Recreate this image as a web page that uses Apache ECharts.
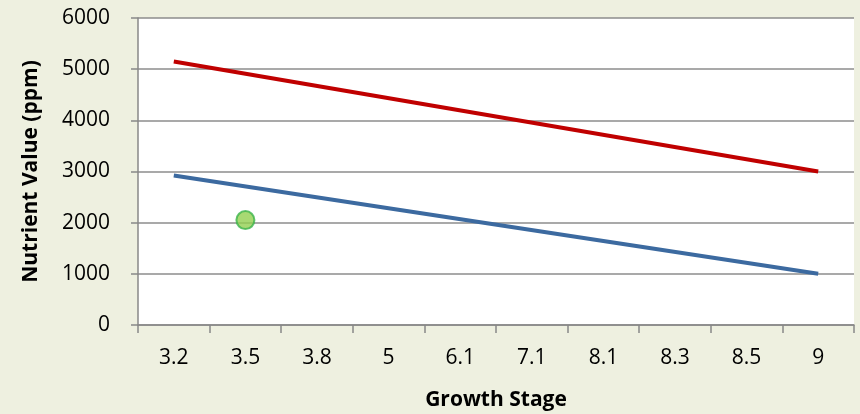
<!DOCTYPE html>
<html>
<head>
<meta charset="utf-8">
<script src="https://cdn.jsdelivr.net/npm/echarts@6/dist/echarts.min.js"></script>
<style>
  html, body { margin: 0; padding: 0; background: #eef0e0; }
  #chart { width: 860px; height: 414px; }
</style>
</head>
<body>
<div id="chart"></div>
<script>
// Growth stages along the category axis
const stages = ['3.2', '3.5', '3.8', '5', '6.1', '7.1', '8.1', '8.3', '8.5', '9'];
// Upper and lower nutrient limits (only endpoints known, joined straight)
const upperLimit = [5150, null, null, null, null, null, null, null, null, 3000];
const lowerLimit = [2920, null, null, null, null, null, null, null, null, 1000];
// Measured sample
const sample = [null, 2050, null, null, null, null, null, null, null, null];
const yTicks = { min: 0, max: 6000, interval: 1000 };

const chart = echarts.init(document.getElementById('chart'));
const font = "Open Sans";
chart.setOption({
  backgroundColor: '#eef0e0',
  animation: false,
  grid: {
    left: 138, right: 6, top: 18, bottom: 89,
    outerBoundsMode: 'none', containLabel: false,
    backgroundColor: '#ffffff', show: true, borderWidth: 0
  },
  xAxis: {
    type: 'category',
    data: stages,
    boundaryGap: true,
    name: 'Growth Stage',
    nameLocation: 'middle',
    nameGap: 65,
    nameTextStyle: { fontFamily: font, fontSize: 21, fontWeight: 'bold', color: '#000' },
    axisLine: { lineStyle: { color: '#888', width: 1.5 } },
    axisTick: { show: true, length: 8, alignWithLabel: false, lineStyle: { color: '#888', width: 1.5 } },
    axisLabel: { fontFamily: font, fontSize: 21, color: '#000', margin: 23 },
    splitLine: { show: false }
  },
  yAxis: {
    type: 'value',
    min: yTicks.min, max: yTicks.max, interval: yTicks.interval,
    name: 'Nutrient Value (ppm)',
    nameLocation: 'middle',
    nameGap: 96,
    nameTextStyle: { fontFamily: font, fontSize: 21, fontWeight: 'bold', color: '#000' },
    axisLine: { show: true, lineStyle: { color: '#888', width: 1.5 } },
    axisTick: { show: true, length: 7, lineStyle: { color: '#888', width: 1.5 } },
    axisLabel: { fontFamily: font, fontSize: 21, color: '#000', margin: 28, formatter: v => String(v) },
    splitLine: { lineStyle: { color: '#8c8c8c', width: 1.5 } }
  },
  series: [
    {
      type: 'line', data: upperLimit, connectNulls: true, showSymbol: false, symbol: 'none',
      lineStyle: { color: '#c00000', width: 4 }, z: 3
    },
    {
      type: 'line', data: lowerLimit, connectNulls: true, showSymbol: false, symbol: 'none',
      lineStyle: { color: '#3c6aa0', width: 4 }, z: 3
    },
    {
      type: 'scatter', data: sample, symbol: 'circle', symbolSize: 18,
      itemStyle: { color: '#92d050', borderColor: '#3cb44b', borderWidth: 2 }, z: 4
    }
  ]
});
</script>
</body>
</html>
